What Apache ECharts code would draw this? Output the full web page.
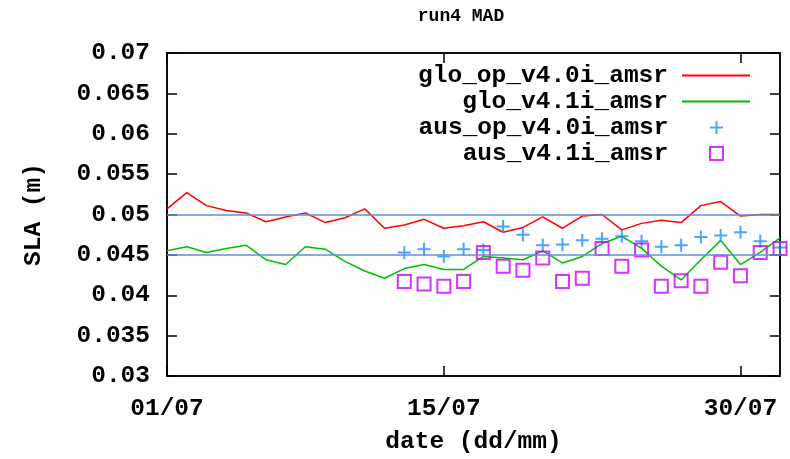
<!DOCTYPE html>
<html><head><meta charset="utf-8">
<script src="https://cdn.jsdelivr.net/npm/echarts@6/dist/echarts.min.js"></script>
<style>html,body{margin:0;padding:0;background:#fff}#c{width:790px;height:459px}</style>
</head><body><div id="c"></div>
<script>
const dates = ['01/07','02/07','03/07','04/07','05/07','06/07','07/07','08/07','09/07','10/07',
  '11/07','12/07','13/07','14/07','15/07','16/07','17/07','18/07','19/07','20/07',
  '21/07','22/07','23/07','24/07','25/07','26/07','27/07','28/07','29/07','30/07','31/07','01/08'];
const xTickLabels = ['01/07','15/07','30/07'];
const gloOp = [0.0507,0.0527,0.0511,0.0505,0.0502,0.0491,0.0497,0.0502,0.0490,0.0496,
  0.0507,0.0483,0.0487,0.0494,0.0483,0.0486,0.0491,0.0478,0.0484,0.0497,
  0.0483,0.0498,0.0500,0.0481,0.0489,0.0493,0.0490,0.0511,0.0516,0.0498,0.0500,0.0500];
const glo41 = [0.0455,0.0460,0.0453,0.0458,0.0462,0.0444,0.0438,0.0460,0.0457,0.0442,
  0.0430,0.0421,0.0433,0.0438,0.0432,0.0432,0.0448,0.0446,0.0444,0.0455,
  0.0440,0.0448,0.0464,0.0473,0.0458,0.0436,0.0419,0.0444,0.0468,0.0438,0.0453,0.0471];
const ausOp = [null,null,null,null,null,null,null,null,null,null,null,null,
  0.0453,0.0457,0.0448,0.0457,0.0456,0.0485,0.0475,0.0462,0.0463,0.0468,
  0.0470,0.0473,0.0467,0.0460,0.0462,0.0472,0.0474,0.0478,0.0467,0.0459];
const aus41 = [null,null,null,null,null,null,null,null,null,null,null,null,
  0.0417,0.0414,0.0411,0.0417,0.0453,0.0436,0.0431,0.0446,0.0417,0.0421,
  0.0458,0.0436,0.0456,0.0411,0.0418,0.0411,0.0441,0.0424,0.0453,0.0458];
const refLines = [0.05, 0.045];
const names = ['glo_op_v4.0i_amsr','glo_v4.1i_amsr','aus_op_v4.0i_amsr','aus_v4.1i_amsr'];
const colors = ['#ff0000','#00c000','#1e8cff','#cc00ff'];

const FONT = "'Liberation Mono', 'DejaVu Sans Mono', monospace";
const tickIdx = xTickLabels.map(l => dates.indexOf(l));
const showTick = (i) => tickIdx.indexOf(i) >= 0;
const PLUS = 'path://M0,6H12M6,0V12';
const SQUARE = 'path://M0,0H12V12H0Z';

function legendRow(i, top, right, icon, itemWidth, itemHeight, padRight, itemStyle) {
  return {
    data: [{name: names[i], icon: icon, itemStyle: itemStyle}],
    orient: 'vertical', right: right, top: top, padding: 0, align: 'right',
    itemWidth: itemWidth, itemHeight: itemHeight, selectedMode: false,
    textStyle: {fontFamily: FONT, fontWeight: 'bold', fontSize: 24.5, color: '#000',
      lineHeight: 16, padding: [0, padRight, 0, 0]}
  };
}

const chart = echarts.init(document.getElementById('c'), null, {renderer: 'canvas'});
chart.setOption({
  animation: false,
  backgroundColor: '#fff',
  title: {text: 'run4 MAD', left: 456, top: 2, textAlign: 'center',
    textStyle: {fontFamily: FONT, fontWeight: 'bold', fontSize: 18, color: '#000'}},
  grid: {left: 167, right: 10, top: 53, bottom: 80, show: true, borderColor: '#000', borderWidth: 1.5},
  legend: [
    legendRow(0, 63, 40, 'rect', 68, 2, 9, {color: colors[0]}),
    legendRow(1, 89, 40, 'rect', 68, 2, 9, {color: colors[1]}),
    legendRow(2, 115, 64.5, PLUS, 13, 13, 36.5, {color: 'none', borderColor: colors[2], borderWidth: 2}),
    legendRow(3, 141, 64.5, SQUARE, 13, 13, 36.5, {color: 'none', borderColor: colors[3], borderWidth: 2})
  ],
  xAxis: [{
    type: 'category', data: dates, boundaryGap: false,
    name: 'date (dd/mm)', nameLocation: 'middle', nameGap: 53,
    nameTextStyle: {fontFamily: FONT, fontWeight: 'bold', fontSize: 24.5, color: '#000'},
    axisLine: {show: true, lineStyle: {color: '#000', width: 1.5}},
    axisTick: {show: true, inside: true, length: 10, interval: (i) => showTick(i), lineStyle: {color: '#000', width: 1.5}},
    axisLabel: {interval: (i) => showTick(i), margin: 20, fontFamily: FONT, fontWeight: 'bold', fontSize: 24.5, color: '#000'},
    splitLine: {show: false}
  }, {
    type: 'category', data: dates, boundaryGap: false, position: 'top',
    axisLine: {show: true, lineStyle: {color: '#000', width: 1.5}},
    axisTick: {show: true, inside: true, length: 10, interval: (i) => showTick(i), lineStyle: {color: '#000', width: 1.5}},
    axisLabel: {show: false}, splitLine: {show: false}
  }],
  yAxis: [{
    type: 'value', min: 0.03, max: 0.07, interval: 0.005,
    name: 'SLA (m)', nameLocation: 'middle', nameGap: 121, nameRotate: 90,
    nameTextStyle: {fontFamily: FONT, fontWeight: 'bold', fontSize: 24.5, color: '#000'},
    axisLine: {show: true, lineStyle: {color: '#000', width: 1.5}},
    axisTick: {show: true, inside: true, length: 10, lineStyle: {color: '#000', width: 1.5}},
    axisLabel: {margin: 17, fontFamily: FONT, fontWeight: 'bold', fontSize: 24.5, color: '#000',
      formatter: (v) => String(parseFloat(v.toFixed(3)))},
    splitLine: {show: false}
  }, {
    type: 'value', min: 0.03, max: 0.07, interval: 0.005, position: 'right',
    axisLine: {show: true, lineStyle: {color: '#000', width: 1.5}},
    axisTick: {show: true, inside: true, length: 10, lineStyle: {color: '#000', width: 1.5}},
    axisLabel: {show: false}, splitLine: {show: false}
  }],
  series: [
    {name: 'ref', type: 'line', data: [], silent: true, z: 1,
      markLine: {silent: true, symbol: 'none', precision: 6, label: {show: false},
        lineStyle: {color: '#5b8fe6', width: 1.5, type: 'solid'},
        data: refLines.map(v => ({yAxis: v}))}},
    {name: names[0], type: 'line', data: gloOp, showSymbol: false, symbol: 'none',
      lineStyle: {color: colors[0], width: 1.5}, itemStyle: {color: colors[0]}, z: 2},
    {name: names[1], type: 'line', data: glo41, showSymbol: false, symbol: 'none',
      lineStyle: {color: colors[1], width: 1.5}, itemStyle: {color: colors[1]}, z: 2},
    {name: names[2], type: 'scatter', data: ausOp, symbol: PLUS, symbolSize: 13,
      itemStyle: {color: 'none', borderColor: colors[2], borderWidth: 2}, z: 3},
    {name: names[3], type: 'scatter', data: aus41, symbol: 'rect', symbolSize: 13,
      itemStyle: {color: 'none', borderColor: colors[3], borderWidth: 2}, z: 3}
  ]
});
</script></body></html>
